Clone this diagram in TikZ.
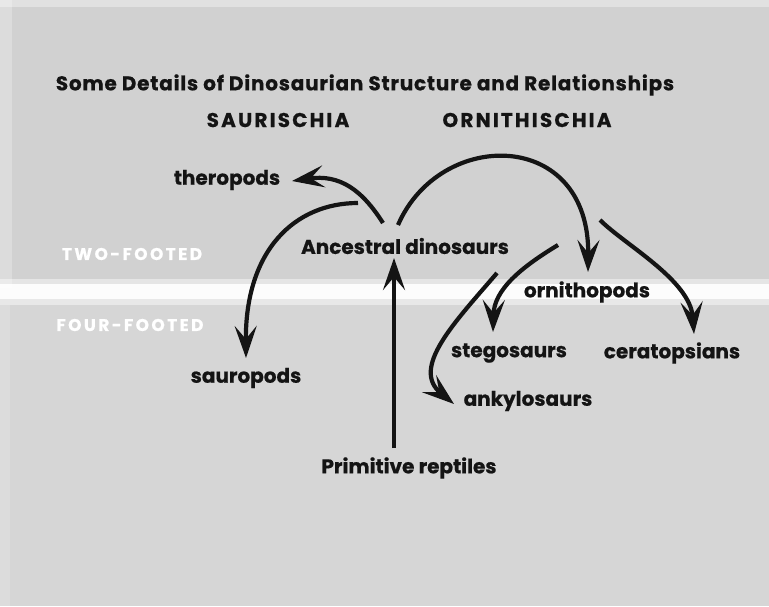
\documentclass[tikz,border=0pt]{standalone}
\usepackage{fontspec}
\setmainfont{Poppins}[BoldFeatures={FakeBold=0.6}]
\usetikzlibrary{arrows.meta}
\definecolor{ink}{RGB}{20,20,20}
\definecolor{bgup}{RGB}{209,209,209}
\definecolor{bglow}{RGB}{214,214,214}
\begin{document}
\begin{tikzpicture}[x=1pt,y=-1pt,
  lbl/.style={font=\bfseries\fontsize{20}{20}\selectfont, text=ink, inner sep=0pt},
  title/.style={font=\addfontfeatures{LetterSpace=4}\bfseries\fontsize{20}{20}\selectfont, text=ink, inner sep=0pt},
  head/.style={font=\addfontfeatures{LetterSpace=11}\bfseries\fontsize{20}{20}\selectfont, text=ink, inner sep=0pt},
  foot/.style={font=\addfontfeatures{LetterSpace=14}\bfseries\fontsize{17}{17}\selectfont, text=white, inner sep=0pt},
  arr/.style={draw=ink, line width=4.2pt, -{Stealth[length=32pt,width=22pt,inset=13pt]}}]
% background
\fill[bglow] (0,0) rectangle (769,606);
\fill[bgup] (0,0) rectangle (769,288);
\fill[white, opacity=0.35] (0,0) rectangle (769,7);
\fill[white, opacity=0.25] (0,0) rectangle (12,288);
\fill[white, opacity=0.15] (0,305) rectangle (10,606);
\fill[white, opacity=0.45] (0,279) rectangle (769,305);
\fill[white, opacity=0.9] (0,284) rectangle (769,299);
\useasboundingbox (0,0) rectangle (769,606);
% texts
\node[title] (title) at (365,85) {Some Details of Dinosaurian Structure and Relationships};
\node[head] (saur) at (278,120) {SAURISCHIA};
\node[head] (orni) at (527,120) {ORNITHISCHIA};
\node[lbl] (thero) at (227,180) {theropods};
\node[lbl] (anc) at (405,246) {Ancestral dinosaurs};
\node[foot] (two) at (132,254) {TWO-FOOTED};
\node[foot] (four) at (130,325) {FOUR-FOOTED};
\node[lbl] (ornp) at (587,292) {ornithopods};
\node[lbl] (steg) at (509,353) {stegosaurs};
\node[lbl] (cera) at (672,353) {ceratopsians};
\node[lbl] (saup) at (246,378) {sauropods};
\node[lbl] (anky) at (528,401) {ankylosaurs};
\node[lbl] (prim) at (409,468) {Primitive reptiles};
% connector end points
\coordinate (p0) at (394,448);
\coordinate (p1) at (394,258);
\coordinate (t0) at (383,223);
\coordinate (t1) at (292,181);
\coordinate (s0) at (358,203);
\coordinate (s1) at (246,358);
\coordinate (o0) at (398,225);
\coordinate (o1) at (588,272);
\coordinate (g0) at (558,245);
\coordinate (g1) at (493,332);
\coordinate (k0) at (497,273);
\coordinate (k1) at (454,404);
\coordinate (c0) at (600,220);
\coordinate (c1) at (694,334);
% connectors
\draw[arr] (p0) -- (p1);
\draw[arr] (t0) .. controls (362,190) and (340,174) .. (t1);
\draw[arr] (s0) .. controls (295,203) and (245,250) .. (s1);
\draw[arr] (o0) .. controls (440,128) and (590,128) .. (o1);
\draw[arr] (g0) .. controls (520,268) and (494,290) .. (g1);
\draw[arr] (k0) .. controls (455,322) and (410,368) .. (k1);
\draw[arr] (c0) .. controls (625,245) and (690,280) .. (c1);
\end{tikzpicture}
\end{document}
